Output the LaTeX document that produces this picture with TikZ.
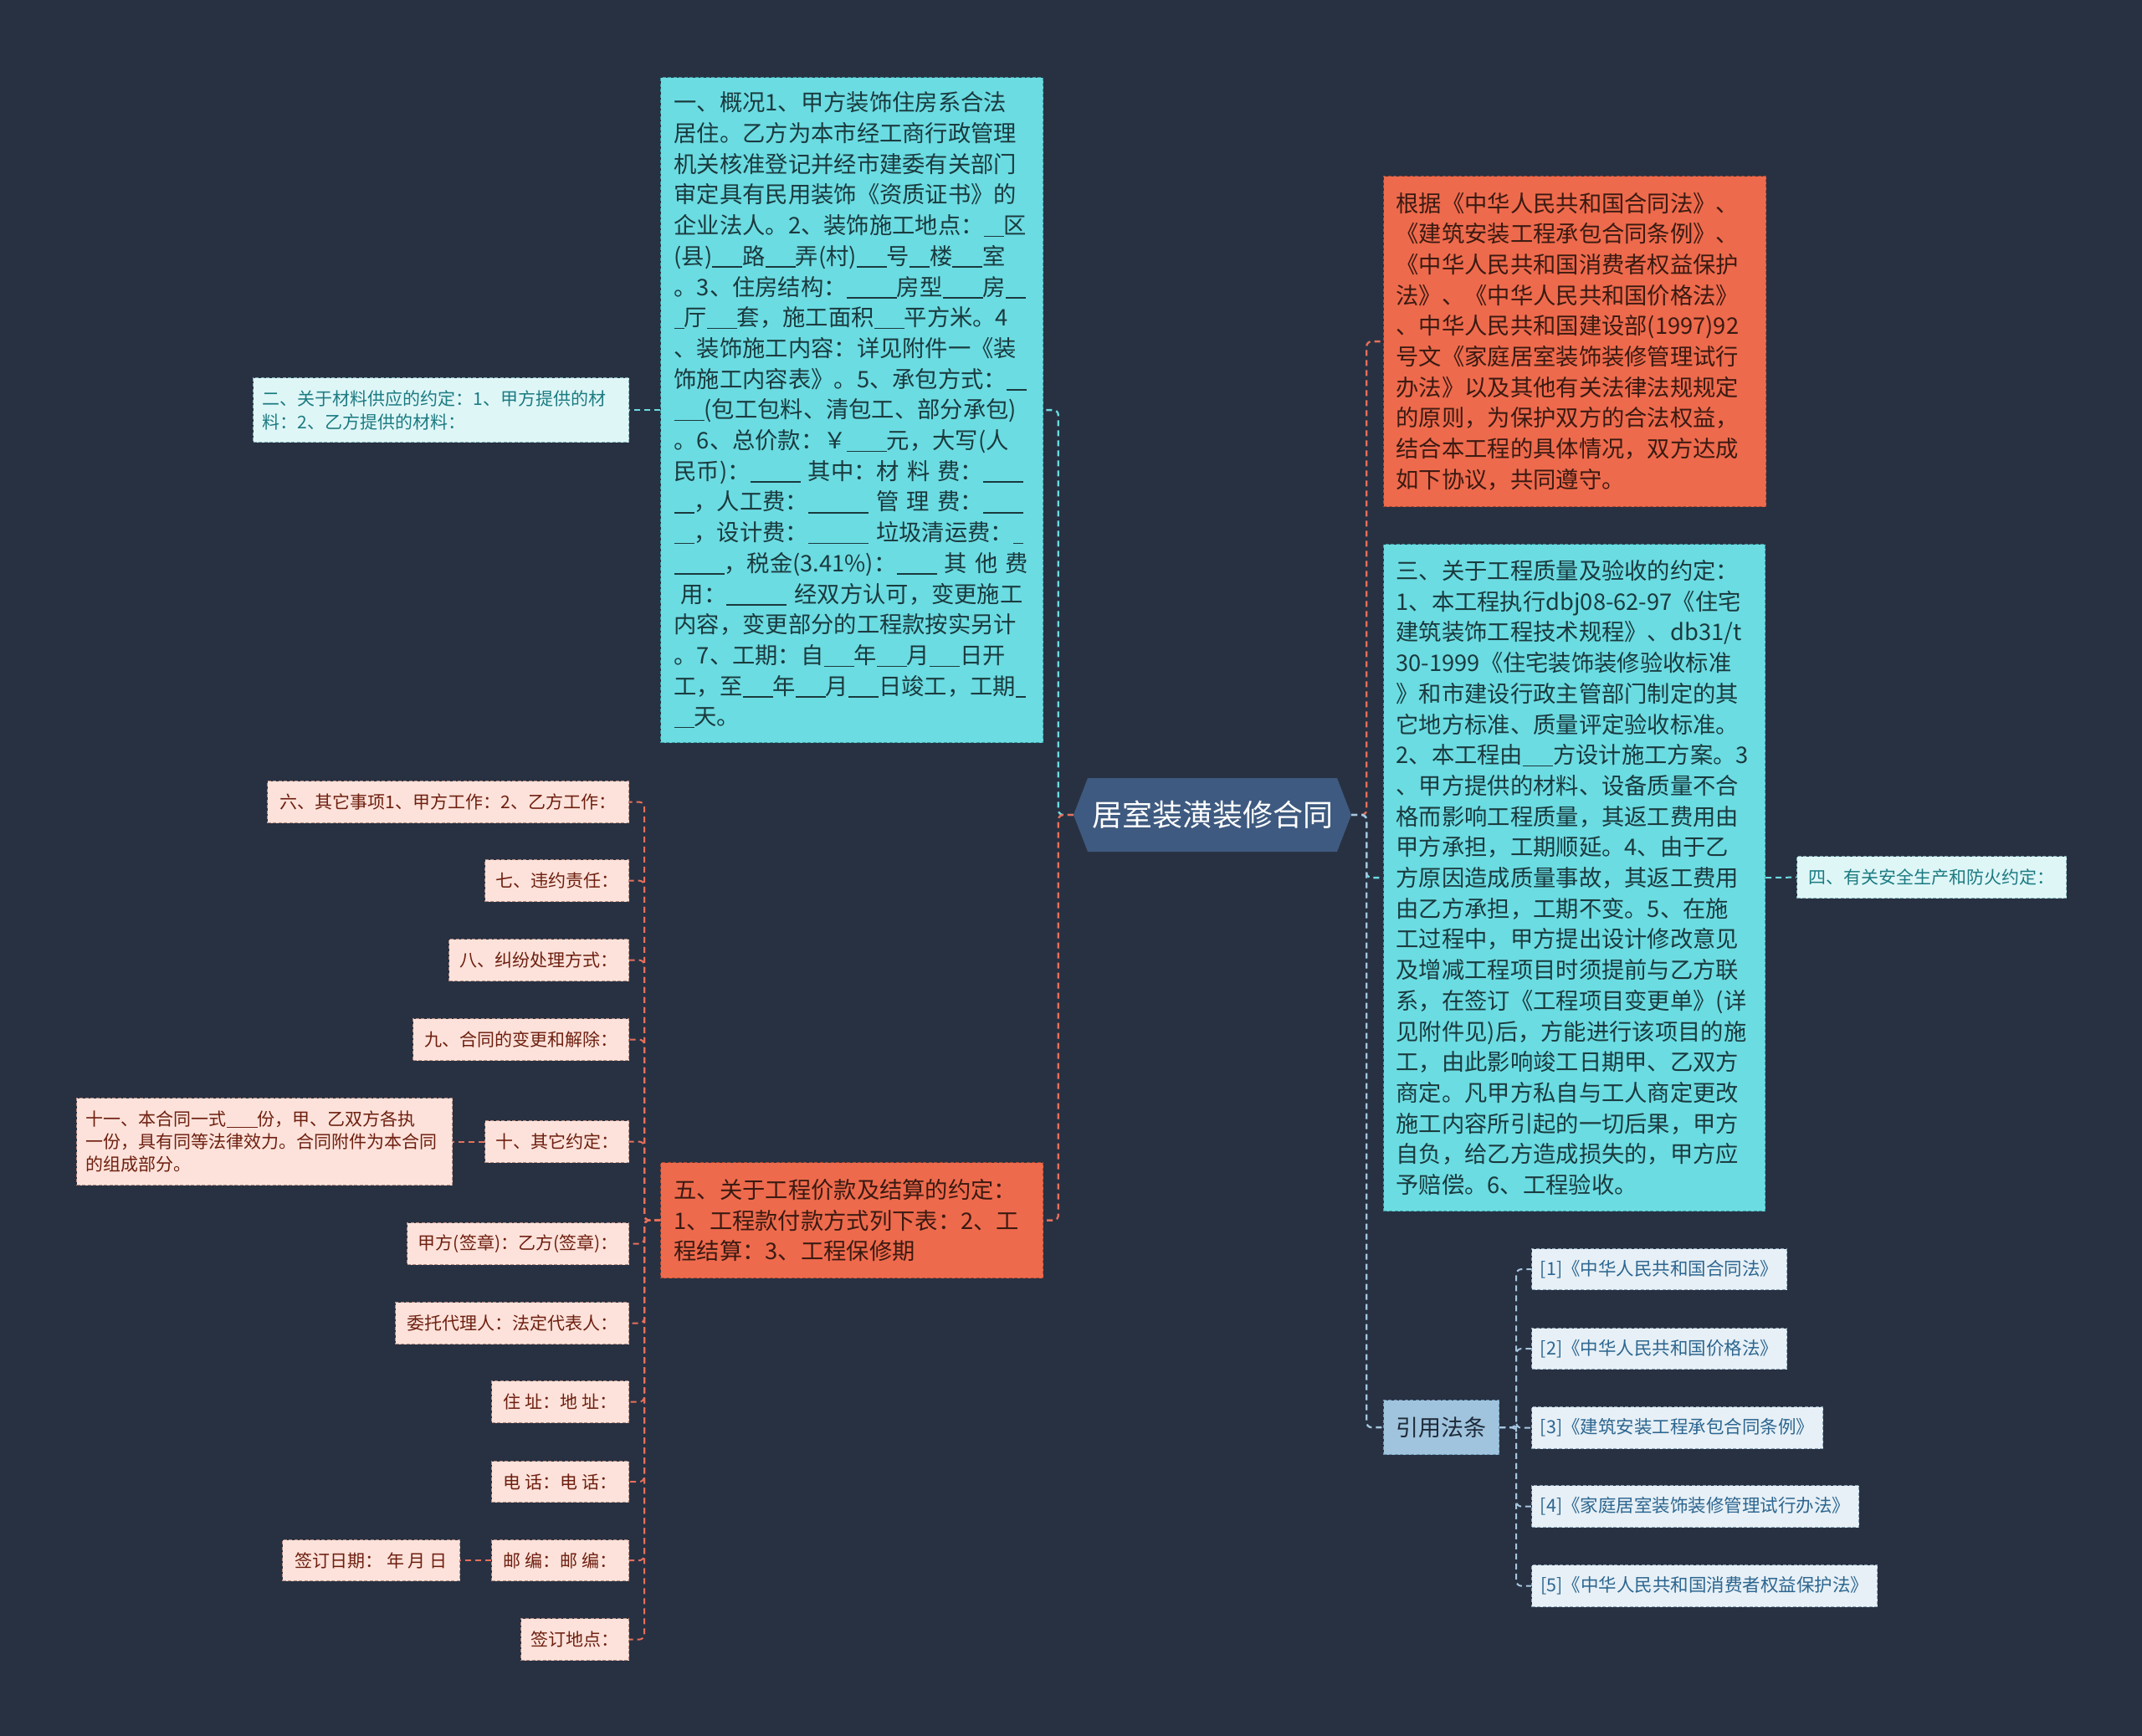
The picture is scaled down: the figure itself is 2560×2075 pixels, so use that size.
\documentclass[tikz,border=0pt]{standalone}
\usepackage{fontspec}
\setmainfont{Noto Sans CJK SC}
\usetikzlibrary{calc}
\definecolor{bg}{HTML}{283142}
\definecolor{rootfill}{HTML}{3E5A80}
\definecolor{cyanfill}{HTML}{6BDCE2}
\definecolor{cyanline}{HTML}{6BDCE2}
\definecolor{cyanborder}{HTML}{3E9CA2}
\definecolor{cyantext}{HTML}{1A3A3E}
\definecolor{orangefill}{HTML}{EE6A4C}
\definecolor{orangeline}{HTML}{E8705A}
\definecolor{orangeborder}{HTML}{A84A34}
\definecolor{orangetext}{HTML}{3A1A12}
\definecolor{lcyanfill}{HTML}{DFF6F7}
\definecolor{lcyantext}{HTML}{1B7B81}
\definecolor{lcyanborder}{HTML}{7FB0B4}
\definecolor{pinkfill}{HTML}{FCE2DA}
\definecolor{pinktext}{HTML}{6E1F10}
\definecolor{pinkborder}{HTML}{B48C82}
\definecolor{lbluefill}{HTML}{E7F0F6}
\definecolor{lbluetext}{HTML}{2D6690}
\definecolor{lblueborder}{HTML}{8AA3B6}
\definecolor{citefill}{HTML}{A0C4DE}
\definecolor{citetext}{HTML}{1E2A38}
\definecolor{citeborder}{HTML}{6F95B4}
\definecolor{blueline}{HTML}{A6C7E0}
\newcommand\fbig{\fontsize{27.3pt}{36.7pt}\selectfont}
\newcommand\fsmall{\fontsize{21pt}{28pt}\selectfont}
\newcommand\us{\rule[-0.13em]{0.44em}{0.055em}}
\newcommand\jline[1]{\makebox[425pt][s]{#1}}
\begin{document}
\begin{tikzpicture}[x=1pt,y=-1pt,
  boxbase/.style={anchor=north west, inner ysep=0pt, dash pattern=on 4pt off 2.5pt, line width=1.2pt},
  bigcyan/.style={boxbase, fill=cyanfill, draw=cyanborder, text=cyantext, font=\fbig, align=left, inner xsep=16pt},
  bigorange/.style={boxbase, fill=orangefill, draw=orangeborder, text=orangetext, font=\fbig, align=left, inner xsep=16pt},
  lcyanbox/.style={boxbase, fill=lcyanfill, draw=lcyanborder, text=lcyantext, font=\fsmall, align=left},
  pinkbox/.style={boxbase, fill=pinkfill, draw=pinkborder, text=pinktext, font=\fsmall, align=left},
  lbluebox/.style={boxbase, fill=lbluefill, draw=lblueborder, text=lbluetext, font=\fontsize{21.5pt}{28pt}\selectfont},
  citebox/.style={boxbase, fill=citefill, draw=citeborder, text=citetext, font=\fontsize{27pt}{32pt}\selectfont},
  conn/.style={dash pattern=on 7pt off 5pt, line width=2.3pt, rounded corners=6pt},
  cconn/.style={conn, draw=cyanline},
  oconn/.style={conn, draw=orangeline},
  bconn/.style={conn, draw=blueline},
]
\fill[bg] (0,0) rectangle (2560,2075);
\useasboundingbox (0,0) rectangle (2560,2075);

% central topic
\fill[rootfill] (1283,974) -- (1300,930) -- (1598,930) -- (1615,974) -- (1598,1018) -- (1300,1018) -- cycle;
\node[minimum width=332pt, minimum height=88pt, inner sep=0pt, text=white, font=\fontsize{36pt}{40pt}\selectfont] (root) at (1449,974) {居室装潢装修合同};

% left main boxes
\node[bigcyan, minimum width=457pt, minimum height=795pt, text width=425pt] (b1) at (789,92) {%
一、概况1、甲方装饰住房系合法\\
居住。乙方为本市经工商行政管理\\
机关核准登记并经市建委有关部门\\
审定具有民用装饰《资质证书》的\\
企业法人。2、装饰施工地点：\us\us 区\\
(县)\us\us\us 路\us\us\us 弄(村)\us\us\us 号\us\us 楼\us\us\us 室\\
。3、住房结构：\us\us\us\us\us 房型\us\us\us\us 房\us\us\\
\us 厅\us\us\us 套，施工面积\us\us\us 平方米。4\\
、装饰施工内容：详见附件一《装\\
饰施工内容表》。5、承包方式：\us\us\\
\us\us\us(包工包料、清包工、部分承包)\\
。6、总价款：￥\us\us\us\us 元，大写(人\\
\jline{民币)：\us\us\us\us\us{} 其中：材 料 费：\us\us\us\us}\\
\jline{\us\us，人工费：\us\us\us\us\us\us{} 管 理 费：\us\us\us\us}\\
\jline{\us\us，设计费：\us\us\us\us\us\us{} 垃圾清运费：\us}\\
\jline{\us\us\us\us\us，税金(3.41\%)：\us\us\us\us{} 其 他 费}\\
\jline{\hspace{0.3em}用：\us\us\us\us\us\us{} 经双方认可，变更施工}\\
内容，变更部分的工程款按实另计\\
。7、工期：自\us\us\us 年\us\us\us 月\us\us\us 日开\\
工，至\us\us\us 年\us\us\us 月\us\us\us 日竣工，工期\us\\
\us\us 天。};

\node[lcyanbox, minimum width=449pt, minimum height=77pt, text width=427pt, inner xsep=11pt] (b2) at (302,451) {%
二、关于材料供应的约定：1、甲方提供的材\\
料：2、乙方提供的材料：};

\node[bigorange, minimum width=457pt, minimum height=138pt, text width=425pt] (b5) at (789,1389) {%
五、关于工程价款及结算的约定：\\
1、工程款付款方式列下表：2、工\\
程结算：3、工程保修期};

% right main boxes
\node[bigorange, minimum width=457pt, minimum height=395pt, text width=427pt, inner xsep=15pt] (r1) at (1653,210) {%
根据《中华人民共和国合同法》、\\
《建筑安装工程承包合同条例》、\\
《中华人民共和国消费者权益保护\\
法》、《中华人民共和国价格法》\\
、中华人民共和国建设部(1997)92\\
号文《家庭居室装饰装修管理试行\\
办法》以及其他有关法律法规规定\\
的原则，为保护双方的合法权益，\\
结合本工程的具体情况，双方达成\\
如下协议，共同遵守。};

\node[bigcyan, minimum width=456pt, minimum height=797pt, text width=426pt, inner xsep=15pt] (b3) at (1653,650) {%
三、关于工程质量及验收的约定：\\
1、本工程执行dbj08-62-97《住宅\\
建筑装饰工程技术规程》、db31/t\\
30-1999《住宅装饰装修验收标准\\
》和市建设行政主管部门制定的其\\
它地方标准、质量评定验收标准。\\
2、本工程由\us\us\us 方设计施工方案。3\\
、甲方提供的材料、设备质量不合\\
格而影响工程质量，其返工费用由\\
甲方承担，工期顺延。4、由于乙\\
方原因造成质量事故，其返工费用\\
由乙方承担，工期不变。5、在施\\
工过程中，甲方提出设计修改意见\\
及增减工程项目时须提前与乙方联\\
系，在签订《工程项目变更单》(详\\
见附件见)后，方能进行该项目的施\\
工，由此影响竣工日期甲、乙双方\\
商定。凡甲方私自与工人商定更改\\
施工内容所引起的一切后果，甲方\\
自负，给乙方造成损失的，甲方应\\
予赔偿。6、工程验收。};

\node[lcyanbox, minimum width=322pt, minimum height=50pt, inner xsep=0pt] (b4) at (2147,1023) {四、有关安全生产和防火约定：};

\node[citebox, minimum width=138pt, minimum height=65pt, inner xsep=0pt] (cite) at (1653,1673) {引用法条};

\node[lbluebox, minimum width=305pt, minimum height=49pt, inner xsep=0pt] (l1) at (1830,1492) {[1]《中华人民共和国合同法》};
\node[lbluebox, minimum width=305pt, minimum height=49pt, inner xsep=0pt] (l2) at (1830,1587) {[2]《中华人民共和国价格法》};
\node[lbluebox, minimum width=348pt, minimum height=50pt, inner xsep=0pt] (l3) at (1830,1681) {[3]《建筑安装工程承包合同条例》};
\node[lbluebox, minimum width=391pt, minimum height=50pt, inner xsep=0pt] (l4) at (1830,1775) {[4]《家庭居室装饰装修管理试行办法》};
\node[lbluebox, minimum width=413pt, minimum height=50pt, inner xsep=0pt] (l5) at (1830,1870) {[5]《中华人民共和国消费者权益保护法》};

% children of 五
\node[pinkbox, minimum width=432pt, minimum height=50pt, inner xsep=0pt] (c6) at (319,933) {六、其它事项1、甲方工作：2、乙方工作：};
\node[pinkbox, minimum width=172pt, minimum height=50pt, inner xsep=0pt] (c7) at (579,1027) {七、违约责任：};
\node[pinkbox, minimum width=215pt, minimum height=50pt, inner xsep=0pt] (c8) at (536,1122) {八、纠纷处理方式：};
\node[pinkbox, minimum width=258pt, minimum height=50pt, inner xsep=0pt] (c9) at (493,1217) {九、合同的变更和解除：};
\node[pinkbox, minimum width=172pt, minimum height=50pt, inner xsep=0pt] (c10) at (579,1339) {十、其它约定：};
\node[pinkbox, minimum width=449pt, minimum height=104pt, text width=427pt, inner xsep=11pt, font=\fontsize{21pt}{27pt}\selectfont] (c11) at (91,1312) {%
十一、本合同一式\us\us\us\us 份，甲、乙双方各执\\
一份，具有同等法律效力。合同附件为本合同\\
的组成部分。};
\node[pinkbox, minimum width=265pt, minimum height=50pt, inner xsep=0pt] (c12) at (486,1461) {甲方(签章)：乙方(签章)：};
\node[pinkbox, minimum width=279pt, minimum height=50pt, inner xsep=0pt] (c13) at (472,1556) {委托代理人：法定代表人：};
\node[pinkbox, minimum width=164pt, minimum height=50pt, inner xsep=0pt] (c14) at (587,1650) {住 址：地 址：};
\node[pinkbox, minimum width=164pt, minimum height=49pt, inner xsep=0pt] (c15) at (587,1746) {电 话：电 话：};
\node[pinkbox, minimum width=164pt, minimum height=49pt, inner xsep=0pt] (c16) at (587,1840) {邮 编：邮 编：};
\node[pinkbox, minimum width=212pt, minimum height=49pt, inner xsep=0pt] (c17) at (337,1840) {签订日期： 年 月 日};
\node[pinkbox, minimum width=129pt, minimum height=50pt, inner xsep=0pt] (c18) at (622,1934) {签订地点：};

% connectors from the central topic
\draw[cconn] (root.west) -- ++(-18,0) |- (b1.east);
\draw[oconn] (root.west) -- ++(-18,0) |- (b5.east);
\draw[oconn] (root.east) -- ++(18,0) |- (r1.west);
\draw[cconn] (root.east) -- ++(18,0) |- (b3.west);
\draw[bconn] (root.east) -- ++(18,0) |- (cite.west);

% second level
\draw[cconn, line width=2pt] (b1.west) -- (b2.east);
\draw[cconn, line width=2pt] (b3.east) -- (b4.west);
\foreach \n in {l1,l2,l3,l4,l5}
  \draw[bconn, line width=2pt] (cite.east) -- ++(20,0) |- (\n.west);
\foreach \n in {c6,c7,c8,c9,c10,c12,c13,c14,c15,c16,c18}
  \draw[oconn, line width=2pt] (b5.west) -- ++(-19,0) |- (\n.east);
\draw[oconn, line width=2pt] (c10.west) -- (c11.east);
\draw[oconn, line width=2pt] (c16.west) -- (c17.east);
\end{tikzpicture}
\end{document}
